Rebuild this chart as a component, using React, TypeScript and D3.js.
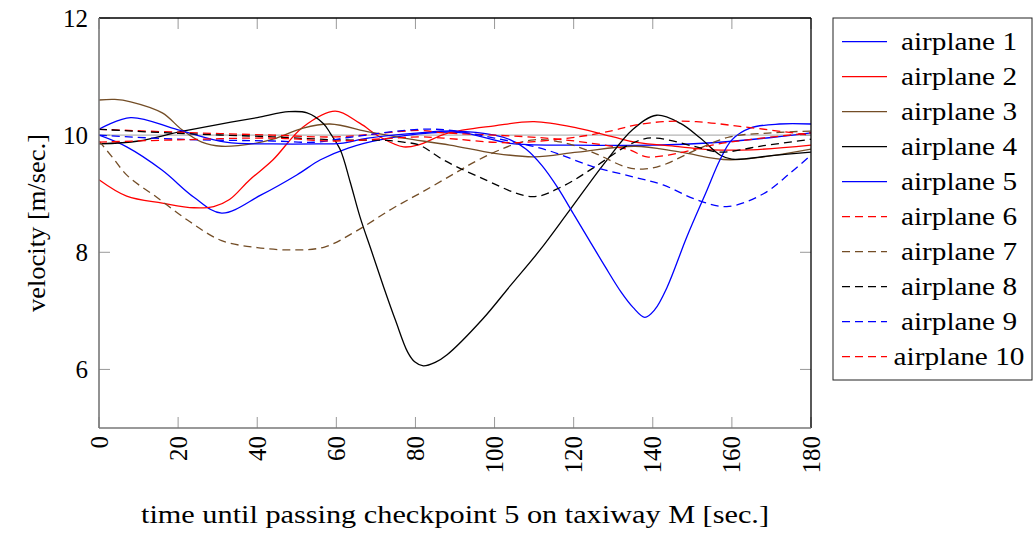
import React from "react";
import * as d3 from "d3";

type Pt = [number, number];

const xTicks = [0, 20, 40, 60, 80, 100, 120, 140, 160, 180];
const yTicks = [6, 8, 10, 12];

const airplane1: Pt[] = [[0,10.0],[7,9.8],[16,9.4],[24,8.94],[31,8.67],[41,8.98],[50,9.32],[56,9.58],[63,9.78],[71,9.92],[84,10.04],[92,10.04],[104,9.86],[120,9.83],[140,9.83],[155,9.87],[170,9.96],[180,10.04]];
const airplane2: Pt[] = [[0,9.24],[7,8.96],[16,8.84],[24,8.76],[29,8.78],[33,8.9],[38,9.23],[44,9.58],[51.6,10.14],[59.7,10.41],[66,10.2],[71,9.97],[77,9.8],[81,9.84],[88,10.03],[100,10.16],[110,10.23],[121,10.12],[130,9.97],[135.5,9.88],[147,9.8],[155,9.75],[165,9.75],[180,9.83]];
const airplane3: Pt[] = [[0,10.6],[4,10.61],[8,10.57],[16,10.38],[21,10.09],[26,9.88],[31,9.81],[39.5,9.86],[44,9.93],[51.6,10.12],[58.4,10.19],[68.5,10.05],[77,9.95],[88.7,9.83],[100,9.69],[110,9.63],[121,9.71],[135.5,9.81],[147,9.71],[159.5,9.58],[180,9.76]];
const airplane4: Pt[] = [[0,9.85],[10,9.9],[20,10.05],[30,10.18],[40,10.3],[48,10.4],[52.6,10.38],[56.7,10.2],[58.4,10.04],[61,9.75],[63.5,9.2],[66,8.6],[69,8.0],[72,7.4],[75,6.83],[78,6.3],[79.8,6.13],[82,6.06],[85,6.12],[88,6.25],[97,6.86],[104,7.43],[111.5,8.04],[119,8.72],[128,9.54],[135,10.1],[141,10.34],[147,10.2],[152,9.95],[157,9.66],[160,9.59],[170,9.65],[180,9.71]];
const airplane5: Pt[] = [[0,10.1],[8,10.3],[20,10.09],[32,9.88],[44,9.85],[55,9.85],[61,9.86],[68,9.95],[81,10.04],[90,10.07],[100,10.0],[104,9.92],[108,9.76],[112,9.48],[116,9.1],[120,8.65],[124,8.2],[128,7.75],[132,7.32],[135,7.06],[138,6.89],[140.5,7.02],[143.6,7.4],[148.6,8.26],[153.7,9.06],[157,9.58],[160,9.92],[164.6,10.12],[172,10.19],[180,10.19]];
const airplane6: Pt[] = [[0,10.1],[20,10.05],[44,10.0],[60,9.97],[81,10.08],[87,10.04],[100,10.0],[113,9.95],[123.6,9.87],[134,9.75],[138.5,9.63],[147,9.7],[155,9.83],[164,9.92],[180,10.04]];
const airplane7: Pt[] = [[0,9.9],[3.3,9.63],[7.3,9.3],[14.6,8.94],[23,8.52],[31,8.2],[40,8.08],[49,8.04],[57,8.09],[65,8.36],[74,8.74],[82,9.04],[90,9.35],[96,9.58],[104.4,9.83],[110,9.92],[117,9.88],[125.4,9.69],[133,9.46],[137.5,9.42],[142.6,9.49],[151,9.75],[159.5,9.97],[170,10.04],[180,10.07]];
const airplane8: Pt[] = [[0,10.1],[20,10.03],[44,9.97],[60,9.92],[73,9.91],[77,9.88],[81,9.83],[87,9.58],[96,9.29],[109.5,8.95],[117,9.12],[125.4,9.46],[133,9.8],[137.5,9.93],[141,9.95],[151,9.8],[157,9.71],[168,9.82],[180,9.93]];
const airplane9: Pt[] = [[0,10.0],[20,9.93],[44,9.9],[55,9.88],[63,9.96],[81,10.1],[89,10.08],[100,9.95],[113,9.75],[125,9.46],[135.5,9.28],[142.6,9.15],[151,8.9],[158.7,8.78],[168,9.0],[174.7,9.35],[180,9.66]];
const airplane10: Pt[] = [[0,9.88],[20,9.92],[44,9.95],[60,9.9],[81,9.97],[87,9.95],[104,9.87],[121,9.97],[130,10.08],[135.5,10.17],[142.6,10.23],[151,10.23],[162,10.15],[180,10.0]];

const seriesNames = ["airplane 1","airplane 2","airplane 3","airplane 4","airplane 5","airplane 6","airplane 7","airplane 8","airplane 9","airplane 10"];
const seriesData = [airplane1, airplane2, airplane3, airplane4, airplane5, airplane6, airplane7, airplane8, airplane9, airplane10];
const BLUE = "#0000ff", RED = "#ff0000", BROWN = "#734d26", BLACK = "#000000";
const seriesColors = [BLUE, RED, BROWN, BLACK, BLUE, RED, BROWN, BLACK, BLUE, RED];
const seriesDashed = [false, false, false, false, false, true, true, true, true, true];

const FONT = "'Liberation Serif', 'Times New Roman', serif";

export default function App() {
  const left = 99, right = 811, top = 18, bottom = 428;
  const x = d3.scaleLinear().domain([0, 180]).range([left, right]);
  const y = d3.scaleLinear().domain([5, 12]).range([bottom, top]);
  const line = d3.line<Pt>().x(d => x(d[0])).y(d => y(d[1])).curve(d3.curveCatmullRom.alpha(0.5));
  const tickLen = 11;
  const fs = 25;
  const legX = 833, legY = 18, legW = 199, legH = 362;
  const rowY = (i: number) => 41.7 + i * 35;

  return (
    <svg width={1033} height={534} style={{ position: "absolute", left: 0, top: 0, background: "#fff" }} fontFamily={FONT}>
      <defs>
        <clipPath id="plotclip"><rect x={left} y={top} width={right - left} height={bottom - top} /></clipPath>
      </defs>
      <rect x={0} y={0} width={1033} height={534} fill="#fff" />
      <line x1={left} x2={right} y1={y(10)} y2={y(10)} stroke="#b4b4b4" strokeWidth={1.3} />
      {xTicks.map(t => (
        <g key={"xt" + t}>
          <line x1={x(t)} x2={x(t)} y1={bottom} y2={bottom - tickLen} stroke="#999" strokeWidth={1} />
          <line x1={x(t)} x2={x(t)} y1={top} y2={top + tickLen} stroke="#999" strokeWidth={1} />
          <text transform={`translate(${x(t)},${bottom + 8}) rotate(-90)`} textAnchor="end" dominantBaseline="central" fontSize={fs}>{t}</text>
        </g>
      ))}
      {yTicks.map(t => (
        <g key={"yt" + t}>
          <line x1={left} x2={left + tickLen} y1={y(t)} y2={y(t)} stroke="#999" strokeWidth={1} />
          <line x1={right} x2={right - tickLen} y1={y(t)} y2={y(t)} stroke="#999" strokeWidth={1} />
          <text x={left - 11} y={y(t)} textAnchor="end" dominantBaseline="central" fontSize={fs}>{t}</text>
        </g>
      ))}
      <g clipPath="url(#plotclip)">
        {seriesData.map((d, i) => (
          <path key={seriesNames[i]} d={line(d) || ""} fill="none" stroke={seriesColors[i]} strokeWidth={1.3}
            strokeDasharray={seriesDashed[i] ? "8,5" : undefined} />
        ))}
      </g>
      <line x1={left} x2={right} y1={top} y2={top} stroke="#000" strokeWidth={1.3} />
      <line x1={right} x2={right} y1={top} y2={bottom} stroke="#000" strokeWidth={1.3} />
      <line x1={left} x2={left} y1={top} y2={bottom} stroke="#777" strokeWidth={1.6} />
      <line x1={left} x2={right} y1={bottom} y2={bottom} stroke="#777" strokeWidth={1.6} />
      <text x={(left + right) / 2} y={523} textAnchor="middle" fontSize={fs} textLength={628} lengthAdjust="spacingAndGlyphs">time until passing checkpoint 5 on taxiway M [sec.]</text>
      <text transform={`translate(45,${(top + bottom) / 2}) rotate(-90)`} textAnchor="middle" fontSize={fs} textLength={178} lengthAdjust="spacingAndGlyphs">velocity [m/sec.]</text>
      <rect x={legX} y={legY} width={legW} height={legH} fill="#fff" stroke="#222" strokeWidth={1} />
      {seriesNames.map((n, i) => (
        <g key={"lg" + n}>
          <line x1={842} x2={887} y1={rowY(i)} y2={rowY(i)} stroke={seriesColors[i]} strokeWidth={1.3}
            strokeDasharray={seriesDashed[i] ? "8,5" : undefined} />
          <text x={959} y={rowY(i) + 8} textAnchor="middle" fontSize={fs}
            textLength={i === 9 ? 131 : 116} lengthAdjust="spacingAndGlyphs">{n}</text>
        </g>
      ))}
    </svg>
  );
}
